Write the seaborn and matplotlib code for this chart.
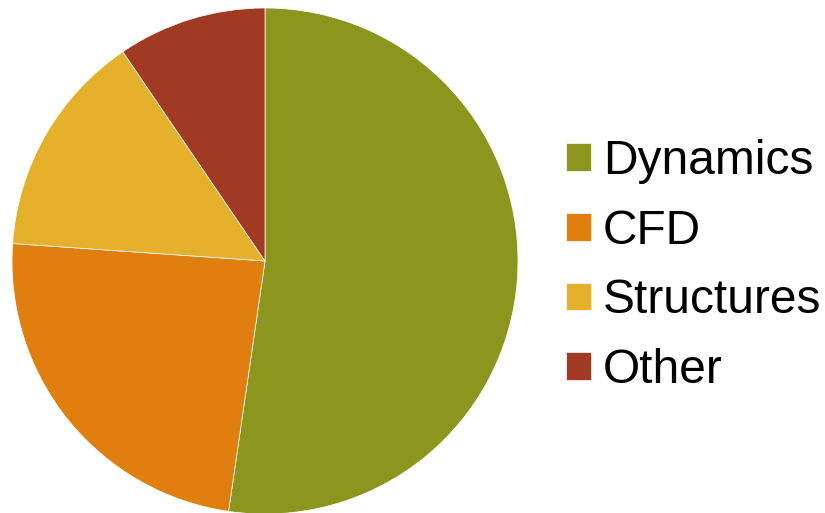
import matplotlib
matplotlib.use("Agg")
import matplotlib.pyplot as plt
import seaborn as sns

categories = ["Dynamics", "CFD", "Structures", "Other"]
values = [52.3, 23.8, 14.4, 9.5]
colors = ["#8C961E", "#E07E10", "#E5B02C", "#A03A22"]

sns.set_theme(style="white")
plt.rcParams["font.family"] = ["Liberation Sans", "DejaVu Sans"]

W, H = 825, 513
fig = plt.figure(figsize=(W / 100, H / 100), dpi=100)
r = 253
cx, cy = 265, 261
ax = fig.add_axes([(cx - r) / W, (H - cy - r) / H, 2 * r / W, 2 * r / H])
wedges, _ = ax.pie(values, colors=colors, startangle=90, counterclock=False,
                   radius=1, wedgeprops=dict(edgecolor="white", linewidth=0.5))
ax.set_xlim(-1, 1)
ax.set_ylim(-1, 1)
ax.set_aspect("equal")
ax.axis("off")

leg = fig.legend(wedges, categories, loc="center left", bbox_to_anchor=(566 / W, 1 - 266 / H),
                 frameon=False, fontsize=34.5, handlelength=0.52, handleheight=0.52,
                 handletextpad=0.25, labelspacing=0.52, borderpad=0, borderaxespad=0)
for t in leg.get_texts():
    t.set_color("black")

fig.savefig("out.png", dpi=100)
